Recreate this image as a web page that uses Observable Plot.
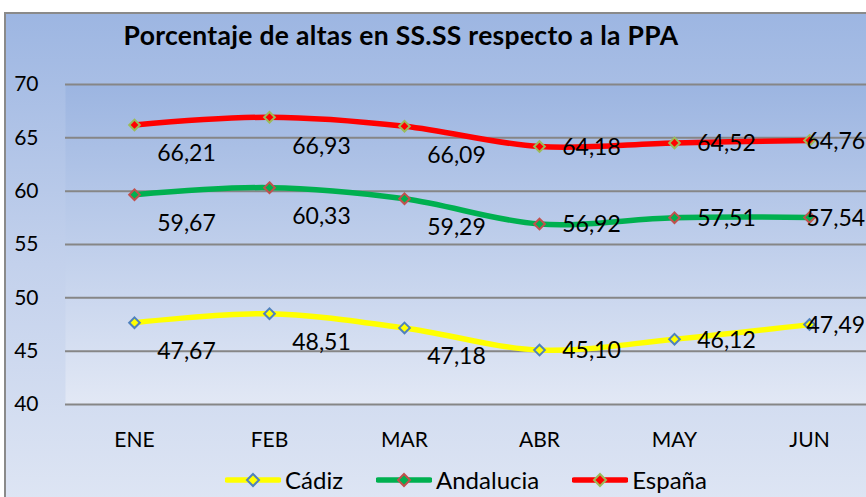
<!DOCTYPE html>
<html>
<head>
<meta charset="utf-8">
<script src="https://cdn.jsdelivr.net/npm/d3@7"></script>
<script src="https://cdn.jsdelivr.net/npm/@observablehq/plot@0.6"></script>
<style>
  html, body { margin: 0; padding: 0; width: 866px; height: 497px; overflow: hidden; background: #fff; }
  #frame {
    position: absolute; left: 4px; top: 12px; width: 900px; height: 500px;
    border-left: 2px solid #8a8a8a; border-top: 2px solid #8a8a8a;
    background: linear-gradient(to bottom, #9db6e2 0%, #c3d1ec 50%, #dfe6f4 100%);
  }
  #title {
    position: absolute; left: 0; top: 19px; width: 802px; text-align: center;
    font-family: Lato, sans-serif; font-weight: bold; font-size: 26.5px; letter-spacing: 0.3px; color: #000;
  }
  #chart { position: absolute; left: 0; top: 60px; width: 880px; }
  #chart svg { max-width: none !important; display: block; }
  #legend {
    position: absolute; left: 225px; top: 465px; display: flex; align-items: center;
    font-family: Lato, sans-serif; font-size: 24px; color: #000;
  }
  .item { display: flex; align-items: center; margin-right: 33px; }
  .item svg { margin-right: 4px; }
</style>
</head>
<body>
<div id="frame"></div>
<div id="title">Porcentaje de altas en SS.SS respecto a la PPA</div>
<div id="chart"></div>
<div id="legend"></div>
<script>
const months = ["ENE", "FEB", "MAR", "ABR", "MAY", "JUN"];
const seriesNames = ["Cádiz", "Andalucia", "España"];
const cadiz = [47.67, 48.51, 47.18, 45.10, 46.12, 47.49];
const andalucia = [59.67, 60.33, 59.29, 56.92, 57.51, 57.54];
const espana = [66.21, 66.93, 66.09, 64.18, 64.52, 64.76];
const yTicks = [40, 45, 50, 55, 60, 65, 70];

const styles = {
  "Cádiz":     {line: "#ffff00", fill: "#ffff00", stroke: "#4f81bd"},
  "Andalucia": {line: "#00b050", fill: "#00b050", stroke: "#c0504d"},
  "España":    {line: "#ff0000", fill: "#ff0000", stroke: "#9bbb59"}
};

const values = [cadiz, andalucia, espana];
const data = [];
seriesNames.forEach((s, si) => {
  months.forEach((m, i) => data.push({series: s, month: m, i, value: values[si][i]}));
});
const fmt = v => d3.format(".2f")(v).replace(".", ",");

const marks = [
  Plot.frame({fill: "url(#plotGrad)", stroke: "none"}),
  Plot.ruleY(yTicks, {stroke: "#868686", strokeWidth: 2})
];
seriesNames.forEach(s => {
  const d = data.filter(r => r.series === s);
  marks.push(Plot.line(d, {x: "month", y: "value", stroke: styles[s].line, strokeWidth: 5.5, curve: "catmull-rom"}));
});
seriesNames.forEach(s => {
  const d = data.filter(r => r.series === s);
  marks.push(Plot.dot(d, {x: "month", y: "value", symbol: "diamond2", r: 4.8, fill: styles[s].fill, stroke: styles[s].stroke, strokeWidth: 2}));
});
marks.push(Plot.text(data.filter(r => r.i < 3), {x: "month", y: "value", text: r => fmt(r.value), dx: 52, dy: 29, fontSize: 23, fill: "#000"}));
marks.push(Plot.text(data.filter(r => r.i >= 3 && r.i < 5), {x: "month", y: "value", text: r => fmt(r.value), dx: 52, dy: 1, fontSize: 23, fill: "#000"}));
marks.push(Plot.text(data.filter(r => r.i === 5), {x: "month", y: "value", text: r => fmt(r.value), dx: -3, dy: 1, textAnchor: "start", fontSize: 23, fill: "#000"}));
marks.push(Plot.axisY(yTicks, {tickSize: 0, tickPadding: 27, fontSize: 21, fill: "#000"}));
marks.push(Plot.axisX({tickSize: 0, tickPadding: 28, fontSize: 21, fill: "#000"}));

const plot = Plot.plot({
  width: 880, height: 400,
  marginLeft: 65, marginRight: 3, marginTop: 24, marginBottom: 56,
  x: {type: "point", domain: months, padding: 0.5, label: null},
  y: {domain: [40, 70], label: null},
  style: {fontFamily: "Lato, sans-serif", fontSize: "21px", color: "#000", background: "transparent", overflow: "visible", maxWidth: "none"},
  marks
});
const svg = d3.select(plot);
const grad = svg.insert("defs", ":first-child").append("linearGradient")
  .attr("id", "plotGrad").attr("x1", 0).attr("y1", 0).attr("x2", 0).attr("y2", 1);
grad.append("stop").attr("offset", "0%").attr("stop-color", "#9cb5e1");
grad.append("stop").attr("offset", "100%").attr("stop-color", "#e2e8f5");
document.getElementById("chart").appendChild(plot);

const legend = d3.select("#legend");
seriesNames.forEach(s => {
  const it = legend.append("div").attr("class", "item");
  const sv = it.append("svg").attr("width", 56).attr("height", 16);
  sv.append("line").attr("x1", 2).attr("x2", 54).attr("y1", 8).attr("y2", 8)
    .attr("stroke", styles[s].line).attr("stroke-width", 5.5).attr("stroke-linecap", "round");
  sv.append("path").attr("d", "M28,2L34,8L28,14L22,8Z")
    .attr("fill", styles[s].fill).attr("stroke", styles[s].stroke).attr("stroke-width", 2);
  it.append("span").text(s);
});
</script>
</body>
</html>
